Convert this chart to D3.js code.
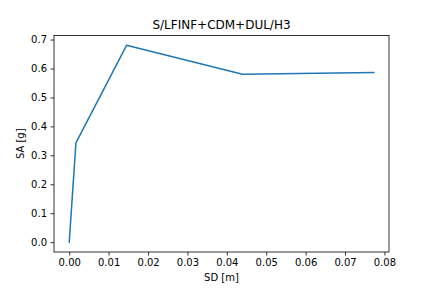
<!DOCTYPE html>
<html>
<head>
<meta charset="utf-8">
<script src="https://cdn.jsdelivr.net/npm/d3@7"></script>
<style>
  body { margin: 0; background: #fff; }
  svg { font-family: "DejaVu Sans", sans-serif; }
</style>
</head>
<body>
<div id="chart"></div>
<script>
// data
var sd = [0, 0.0017, 0.01455, 0.0440, 0.0773];
var sa = [0, 0.343, 0.680, 0.580, 0.586];
var xTicks = [0, 0.01, 0.02, 0.03, 0.04, 0.05, 0.06, 0.07, 0.08];
var yTicks = [0, 0.1, 0.2, 0.3, 0.4, 0.5, 0.6, 0.7];

var width = 432,
    height = 288,
    margin = {left: 54, right: 43, top: 35.5, bottom: 36};

var plotW = width - margin.left - margin.right,
    plotH = height - margin.top - margin.bottom;

// matplotlib style 5% margins
var xr = d3.max(sd) - d3.min(sd),
    yr = d3.max(sa) - d3.min(sa);

var x = d3.scaleLinear()
    .domain([d3.min(sd) - 0.05 * xr, d3.max(sd) + 0.05 * xr])
    .range([0, plotW]);

var y = d3.scaleLinear()
    .domain([d3.min(sa) - 0.05 * yr, d3.max(sa) + 0.05 * yr])
    .range([plotH, 0]);

var svg = d3.select("#chart").append("svg")
    .attr("width", width)
    .attr("height", height);

var g = svg.append("g")
    .attr("transform", "translate(" + margin.left + "," + margin.top + ")");

var line = d3.line()
    .x(function(d, i) { return x(sd[i]); })
    .y(function(d, i) { return y(sa[i]); });

g.append("path")
    .datum(sa)
    .attr("d", line)
    .attr("fill", "none")
    .attr("stroke", "#1f77b4")
    .attr("stroke-width", 1.5)
    .attr("stroke-linejoin", "round")
    .attr("stroke-linecap", "square");

var xAxis = g.append("g")
    .attr("transform", "translate(0," + plotH + ")")
    .call(d3.axisBottom(x).tickValues(xTicks).tickFormat(d3.format(".2f"))
      .tickSizeInner(3.5).tickSizeOuter(0).tickPadding(3.5));

var yAxis = g.append("g")
    .call(d3.axisLeft(y).tickValues(yTicks).tickFormat(d3.format(".1f"))
      .tickSizeInner(3.5).tickSizeOuter(0).tickPadding(3.5));

[xAxis, yAxis].forEach(function(a) {
  a.select(".domain").remove();
  a.selectAll("text").attr("font-size", 10).attr("fill", "#000")
    .attr("font-family", "DejaVu Sans");
  a.selectAll("line").attr("stroke", "#000").attr("stroke-width", 0.8);
});

// frame
g.append("rect")
    .attr("width", plotW)
    .attr("height", plotH)
    .attr("fill", "none")
    .attr("stroke", "#000")
    .attr("stroke-width", 0.8);

svg.append("text")
    .attr("x", margin.left + plotW / 2)
    .attr("y", margin.top - 7)
    .attr("text-anchor", "middle")
    .attr("font-size", 12)
    .text("S/LFINF+CDM+DUL/H3");

svg.append("text")
    .attr("x", margin.left + plotW / 2)
    .attr("y", height - 7)
    .attr("text-anchor", "middle")
    .attr("font-size", 10)
    .text("SD [m]");

svg.append("text")
    .attr("transform", "translate(" + 24 + "," + (margin.top + plotH / 2) + ") rotate(-90)")
    .attr("text-anchor", "middle")
    .attr("font-size", 10)
    .text("SA [g]");
</script>
</body>
</html>
